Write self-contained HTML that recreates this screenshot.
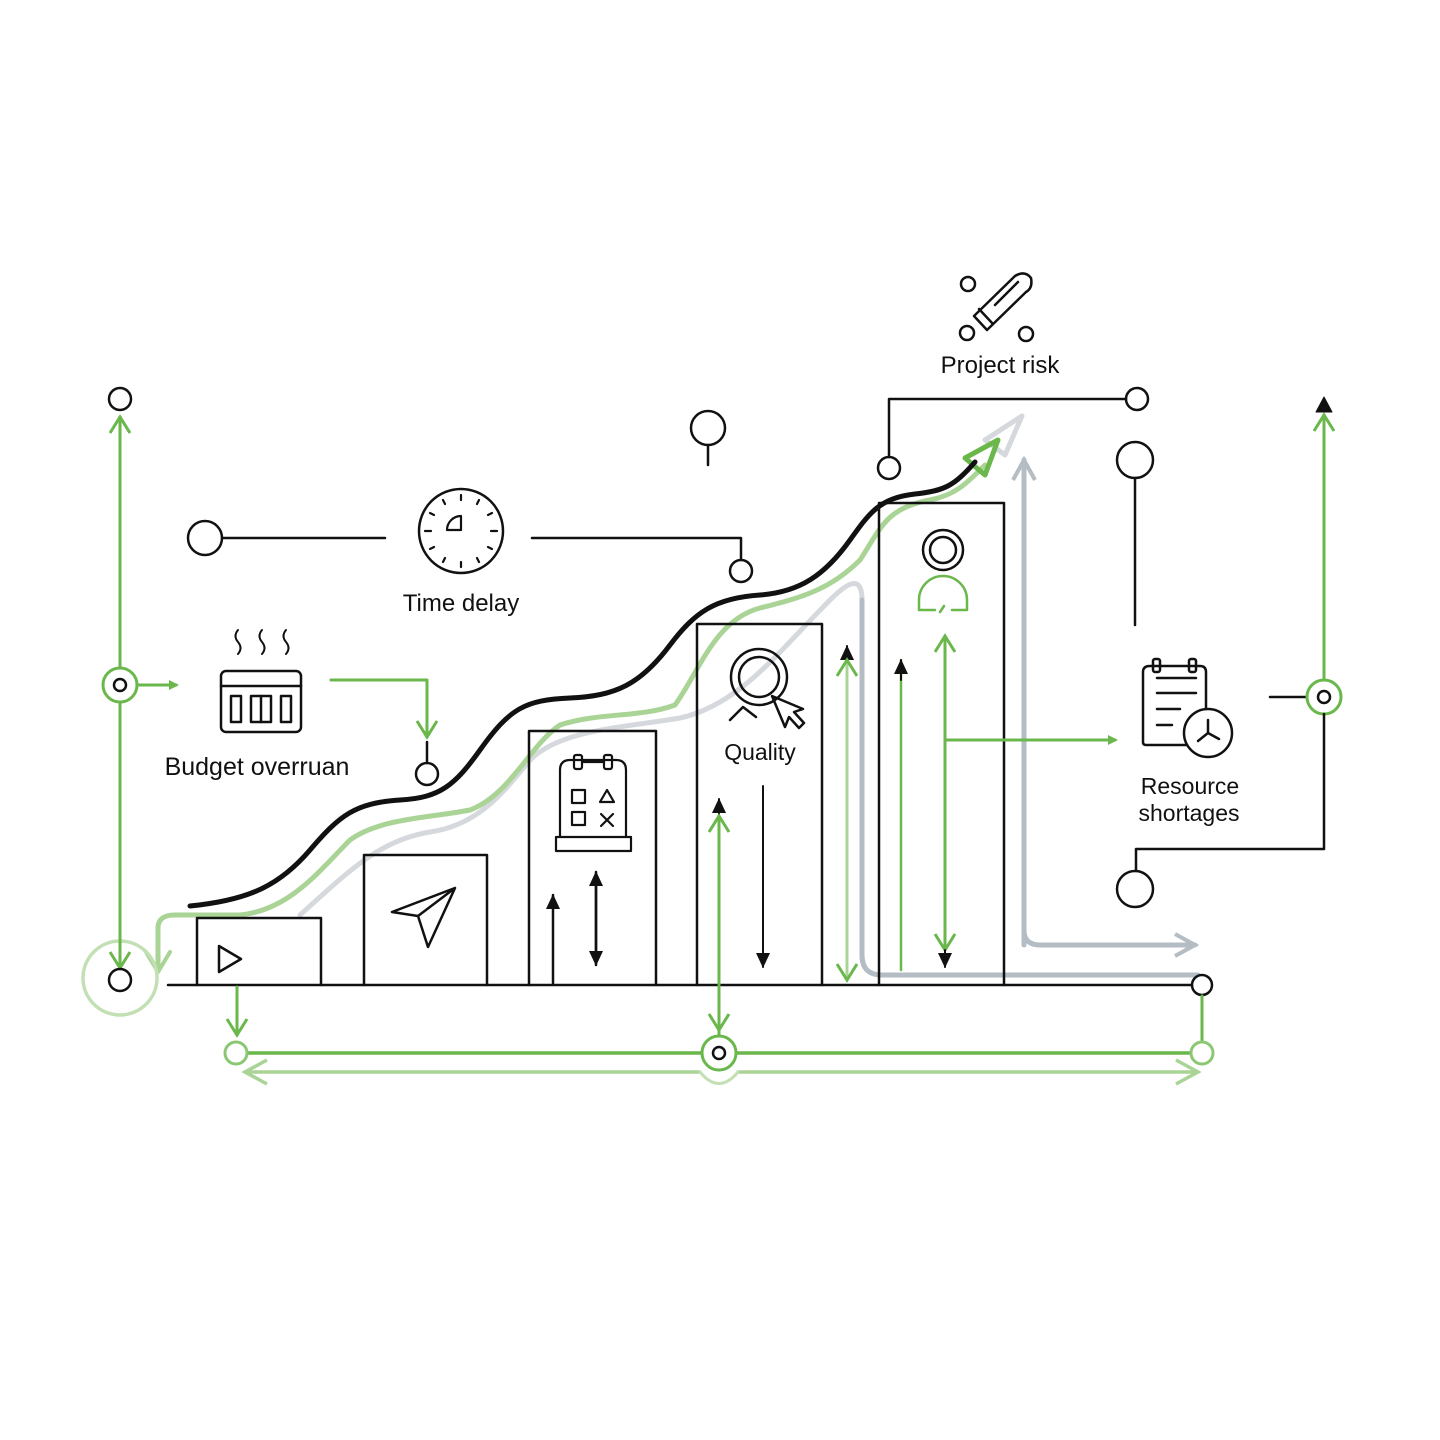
<!DOCTYPE html>
<html><head><meta charset="utf-8"><style>body{margin:0;background:#fff}svg{display:block}text{font-family:"Liberation Sans",sans-serif;fill:#111}</style></head>
<body>
<svg width="1440" height="1440" viewBox="0 0 1440 1440" xmlns="http://www.w3.org/2000/svg">
<defs>
<marker id="ag" markerWidth="10" markerHeight="10" refX="7" refY="5" orient="auto" markerUnits="userSpaceOnUse"><path d="M0,0 L10,5 L0,10 z" fill="#6ab74c"/></marker>
<marker id="agv" markerWidth="24" markerHeight="24" refX="20" refY="12" orient="auto" markerUnits="userSpaceOnUse"><path d="M4,2 L20,12 L4,22" fill="none" stroke="#6ab74c" stroke-width="3"/></marker>
<marker id="agl" markerWidth="30" markerHeight="30" refX="26" refY="15" orient="auto" markerUnits="userSpaceOnUse"><path d="M4,3 L26,15 L4,27" fill="none" stroke="#a9d496" stroke-width="3.5"/></marker>
<marker id="agr" markerWidth="28" markerHeight="28" refX="24" refY="14" orient="auto" markerUnits="userSpaceOnUse"><path d="M4,3 L24,14 L4,25" fill="none" stroke="#b4bcc4" stroke-width="4"/></marker>
<marker id="ab" markerWidth="18" markerHeight="18" refX="16" refY="9" orient="auto" markerUnits="userSpaceOnUse"><path d="M2,2 L17,9 L2,16 z" fill="#111"/></marker>
</defs>
<g fill="none" stroke-linecap="round" stroke-linejoin="round">
<path d="M300,915 C350,870 380,840 430,832 C480,825 505,790 530,760 C560,730 620,728 680,718 C740,705 780,650 830,600 C845,585 862,572 862,600 L862,955 Q862,975 882,975 L1198,975" stroke="#d5d8dc" stroke-width="5"/>
<path d="M862,600 L862,955 Q862,975 882,975 L1198,975" stroke="#b4bcc4" stroke-width="5"/>
<path d="M1024,460 L1024,930 Q1024,945 1040,945 L1195,945" stroke="#b4bcc4" stroke-width="5" marker-end="url(#agr)"/>
<path d="M1024,945 L1024,460" stroke="#b4bcc4" stroke-width="5" marker-end="url(#agr)"/>
<path d="M985,440 L1022,416 L1005,455 z" stroke="#d5d8dc" stroke-width="5"/>
<path d="M158,968 L158,928 Q158,915 175,915 L240,915 C290,910 320,870 350,840 C380,818 430,818 470,810 C510,795 530,745 560,725 C600,712 640,718 675,705 C700,670 715,620 760,608 C800,598 830,590 860,560 C880,530 885,508 930,500 C955,495 965,485 985,465" stroke="#a9d496" stroke-width="5"/>
<path d="M146,952 L158,972 L170,952" stroke="#a9d496" stroke-width="4"/>
<path d="M965,458 L998,440 L985,475 z" stroke="#6ab74c" stroke-width="5"/>
<path d="M190,906 C250,900 280,885 310,850 C340,815 355,803 400,800 C440,798 455,785 480,750 C510,708 525,700 570,698 C615,696 640,685 670,645 C695,612 715,598 760,595 C800,592 825,575 850,540 C870,512 880,498 915,494 C945,491 955,485 975,462" stroke="#111" stroke-width="5"/>
<path d="M168,985 L1192,985" stroke="#111" stroke-width="2.5"/>
<circle cx="1202" cy="985" r="10" stroke="#111" stroke-width="2.5" fill="#fff"/>
<g stroke="#111" stroke-width="2.5">
<path d="M197,985 V918 H321 V985"/>
<path d="M364,985 V855 H487 V985"/>
<path d="M529,985 V731 H656 V985"/>
<path d="M697,985 V624 H822 V985"/>
<path d="M879,985 V503 H1004 V985"/>
</g>
<path d="M219,946 L241,959 L219,972 z" stroke="#111" stroke-width="2.5"/>
<path d="M455,888 L392,912 L418,916 L428,947 z M418,916 L455,888" stroke="#111" stroke-width="2.5"/>
<g stroke="#111" stroke-width="2.2">
<path d="M560,836 V770 Q560,760 570,760 H616 Q626,760 626,770 V836"/>
<rect x="574" y="755" width="8" height="14" rx="2"/><rect x="604" y="755" width="8" height="14" rx="2"/>
<path d="M582,762 H604"/>
<rect x="556" y="837" width="75" height="14"/>
<rect x="572" y="790" width="13" height="13"/><rect x="572" y="812" width="13" height="13"/>
<path d="M600,802 L607,790 L614,802 z M601,814 L613,826 M613,814 L601,826"/>
</g>
<g stroke="#111" stroke-width="2.5">
<circle cx="759" cy="677" r="28"/><circle cx="759" cy="677" r="20"/>
<path d="M730,720 L743,707 L756,717 M772,696 L785,727 L789,717 L799,728 L804,723 L794,712 L803,709 z"/>
</g>
<g stroke="#111" stroke-width="2.5"><circle cx="943" cy="550" r="20"/><circle cx="943" cy="550" r="13"/></g>
<path d="M919,610 V600 A24,24 0 0 1 967,600 V610 H952 M935,610 H919 M940,612 L944,606" stroke="#6ab74c" stroke-width="2.5"/>
<path d="M553,983 V895" stroke="#111" stroke-width="2.5" marker-end="url(#ab)"/>
<path d="M596,880 V965" stroke="#111" stroke-width="2.5" marker-end="url(#ab)"/>
<path d="M596,960 V872" stroke="#111" stroke-width="2.5" marker-end="url(#ab)"/>
<path d="M763,786 V967" stroke="#111" stroke-width="2" marker-end="url(#ab)"/>
<path d="M719,830 V799" stroke="#111" stroke-width="2" marker-end="url(#ab)"/>
<path d="M719,1040 V816" stroke="#6ab74c" stroke-width="3" marker-end="url(#agv)"/>
<path d="M719,830 V1030" stroke="#6ab74c" stroke-width="3" marker-end="url(#agv)"/>
<path d="M847,670 V646" stroke="#111" stroke-width="2" marker-end="url(#ab)"/>
<path d="M847,670 V980" stroke="#a9d496" stroke-width="3" marker-end="url(#agv)"/>
<path d="M847,970 V660" stroke="#a9d496" stroke-width="3" marker-end="url(#agv)"/>
<path d="M901,970 V660" stroke="#6ab74c" stroke-width="2.5"/>
<path d="M901,680 V660" stroke="#111" stroke-width="2" marker-end="url(#ab)"/>
<path d="M945,640 V950" stroke="#6ab74c" stroke-width="3" marker-end="url(#agv)"/>
<path d="M945,940 V636" stroke="#6ab74c" stroke-width="3" marker-end="url(#agv)"/>
<path d="M945,950 V967" stroke="#111" stroke-width="2" marker-end="url(#ab)"/>
<path d="M945,740 H1115" stroke="#6ab74c" stroke-width="3" marker-end="url(#ag)"/>
<circle cx="120" cy="978" r="37" stroke="#c3e0b5" stroke-width="3.5"/>
<path d="M120,670 V417" stroke="#6ab74c" stroke-width="3" marker-end="url(#agv)"/>
<path d="M120,700 V968" stroke="#6ab74c" stroke-width="3" marker-end="url(#agv)"/>
<circle cx="120" cy="399" r="11" stroke="#111" stroke-width="2.5" fill="#fff"/>
<circle cx="120" cy="980" r="11" stroke="#111" stroke-width="2.5" fill="#fff"/>
<circle cx="120" cy="685" r="17" stroke="#6ab74c" stroke-width="3" fill="#fff"/>
<circle cx="120" cy="685" r="6" stroke="#111" stroke-width="2.5"/>
<path d="M138,685 H176" stroke="#6ab74c" stroke-width="3" marker-end="url(#ag)"/>
<g stroke="#111" stroke-width="2.5">
<rect x="221" y="671" width="80" height="61" rx="5"/><path d="M221,686 H301"/>
<rect x="231" y="696" width="10" height="26"/><rect x="251" y="696" width="20" height="26"/><path d="M261,696 V722"/><rect x="281" y="696" width="10" height="26"/>
<path d="M238,630 q-5,6 0,12 q5,6 0,12 M262,630 q-5,6 0,12 q5,6 0,12 M286,630 q-5,6 0,12 q5,6 0,12" stroke-width="2"/>
</g>
<path d="M331,680 H427 V737" stroke="#6ab74c" stroke-width="3" marker-end="url(#agv)"/>
<path d="M427,742 V763" stroke="#111" stroke-width="2.5"/>
<circle cx="427" cy="774" r="11" stroke="#111" stroke-width="2.5"/>
<path d="M237,987 V1035" stroke="#6ab74c" stroke-width="3" marker-end="url(#agv)"/>
<path d="M247,1053 H705 M733,1053 H1192" stroke="#6ab74c" stroke-width="3.5"/>
<path d="M1202,996 V1043" stroke="#6ab74c" stroke-width="3"/>
<circle cx="236" cy="1053" r="11" stroke="#8cc874" stroke-width="3" fill="#fff"/>
<circle cx="1202" cy="1053" r="11" stroke="#8cc874" stroke-width="3" fill="#fff"/>
<circle cx="719" cy="1053" r="17" stroke="#6ab74c" stroke-width="3" fill="#fff"/>
<circle cx="719" cy="1053" r="6" stroke="#111" stroke-width="2.5"/>
<path d="M700,1072 H245" stroke="#a9d496" stroke-width="3.5" marker-end="url(#agl)"/>
<path d="M738,1072 H1198" stroke="#a9d496" stroke-width="3.5" marker-end="url(#agl)"/>
<path d="M700,1072 Q719,1095 738,1072" stroke="#c3e0b5" stroke-width="3"/>
<circle cx="205" cy="538" r="17" stroke="#111" stroke-width="2.5"/>
<path d="M222,538 H385 M532,538 H741 V560" stroke="#111" stroke-width="2.5"/>
<circle cx="741" cy="571" r="11" stroke="#111" stroke-width="2.5"/>
<circle cx="461" cy="531" r="42" stroke="#111" stroke-width="2.5"/>
<g stroke="#111" stroke-width="2.2">
<path d="M461,495 v5 M461,562 v5 M425,531 h6 M491,531 h6 M443,500 l2,4 M479,500 l-2,4 M443,562 l2,-4 M479,562 l-2,-4 M430,513 l4,2 M492,513 l-4,2 M430,549 l4,-2 M492,549 l-4,-2"/>
<path d="M461,516 V530 H447 A14,14 0 0 1 461,516"/>
</g>
<circle cx="708" cy="428" r="17" stroke="#111" stroke-width="2.5"/>
<path d="M708,445 V465" stroke="#111" stroke-width="2.5"/>
<g stroke="#111" stroke-width="2.5">
<circle cx="968" cy="284" r="7"/><circle cx="967" cy="333" r="7"/><circle cx="1026" cy="334" r="7"/>
<path d="M974,316 L1015,276 Q1025,270 1031,278 Q1033,288 1026,292 L987,330 z M979,309 L993,324 M995,305 L1018,282"/>
</g>
<path d="M889,457 V399 H1126" stroke="#111" stroke-width="2.5"/>
<circle cx="889" cy="468" r="11" stroke="#111" stroke-width="2.5"/>
<circle cx="1137" cy="399" r="11" stroke="#111" stroke-width="2.5"/>
<circle cx="1135" cy="460" r="18" stroke="#111" stroke-width="2.5"/>
<path d="M1135,478 V625" stroke="#111" stroke-width="2.5"/>
<g stroke="#111" stroke-width="2.5">
<path d="M1190,745 H1146 Q1143,745 1143,742 V672 Q1143,666 1150,666 H1200 Q1206,666 1206,672 V712"/>
<rect x="1153" y="659" width="7" height="13" rx="2"/><rect x="1189" y="659" width="7" height="13" rx="2"/>
<path d="M1157,678 H1196 M1157,693 H1196 M1157,709 H1180 M1157,725 H1172"/>
<circle cx="1208" cy="733" r="24" fill="#fff"/>
<path d="M1208,733 V720 M1208,733 L1198,741 M1208,733 L1219,739"/>
</g>
<path d="M1270,697 H1307" stroke="#111" stroke-width="2.5"/>
<path d="M1324,680 V415" stroke="#6ab74c" stroke-width="3" marker-end="url(#agv)"/>
<path d="M1316,412 L1324,397 L1332,412 z" fill="#111" stroke="#111" stroke-width="1"/>
<circle cx="1324" cy="697" r="17" stroke="#6ab74c" stroke-width="3" fill="#fff"/>
<circle cx="1324" cy="697" r="6" stroke="#111" stroke-width="2.5"/>
<path d="M1324,714 V849 H1136 V871" stroke="#111" stroke-width="2.5"/>
<circle cx="1135" cy="889" r="18" stroke="#111" stroke-width="2.5"/>
</g>
<text x="461" y="611" font-size="24" text-anchor="middle">Time delay</text>
<text x="257" y="775" font-size="25" text-anchor="middle">Budget overruan</text>
<text x="760" y="760" font-size="23" text-anchor="middle">Quality</text>
<text x="1000" y="373" font-size="24" text-anchor="middle">Project risk</text>
<text x="1190" y="794" font-size="23" text-anchor="middle">Resource</text>
<text x="1189" y="821" font-size="23" text-anchor="middle">shortages</text>
</svg>
</body></html>
